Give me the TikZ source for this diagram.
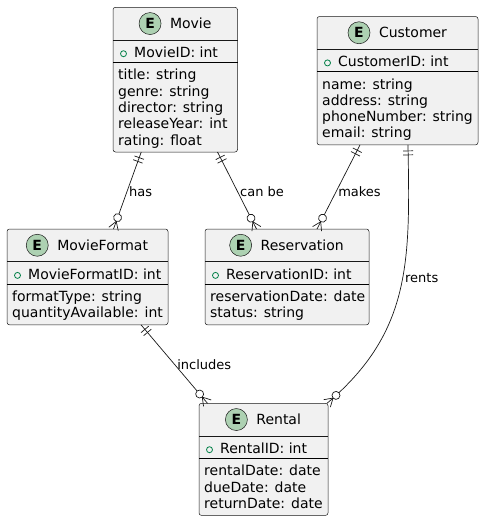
\documentclass[tikz,border=0pt]{standalone}
\usepackage{fontspec}
\setmainfont{DejaVu Sans}
\usetikzlibrary{positioning,decorations.markings}
\definecolor{entityfill}{HTML}{F1F1F1}
\definecolor{entityline}{HTML}{181818}
\definecolor{badgefill}{HTML}{ADD1B2}
\definecolor{keygreen}{HTML}{038048}

\begin{document}
\begin{tikzpicture}[x=1pt, y=1pt,
  entity/.style={rectangle, draw=entityline, fill=entityfill, line width=0.5pt,
    rounded corners=2.5pt, anchor=north west, inner sep=0pt, outer sep=0pt},
  badge/.style={circle, draw=entityline, fill=badgefill, line width=0.5pt, minimum size=22pt,
    inner sep=0pt, outer sep=0pt, font=\fontsize{14}{16}\selectfont\bfseries},
  enttitle/.style={inner sep=0pt, outer sep=0pt, font=\fontsize{14}{16.3}\selectfont},
  keymark/.style={circle, draw=keygreen, line width=0.8pt, minimum size=6pt, inner sep=0pt},
  attr/.style={inner sep=0pt, anchor=north west, align=left, font=\fontsize{14}{16.3}\selectfont,
    execute at begin node=\strut, execute at end node=\strut},
  hdline/.style={draw=entityline, line width=0.5pt},
  sepline/.style={draw=black, line width=0.9pt},
  lbl/.style={font=\fontsize{13}{15}\selectfont, inner sep=2pt},
  rel/.style={draw=entityline, line width=0.7pt, postaction={decorate},
    decoration={markings,
      mark=at position 6pt with {\draw[entityline, line width=0.7pt] (0pt,-5pt) -- (0pt,5pt);},
      mark=at position 10pt with {\draw[entityline, line width=0.7pt] (0pt,-5pt) -- (0pt,5pt);},
      mark=at position -12pt with {\draw[entityline, line width=0.7pt, fill=white] (0pt,0pt) circle (4pt);},
      mark=at position -8pt with {\draw[entityline, line width=0.7pt] (8pt,5pt) -- (0pt,0pt) -- (8pt,-5pt);}}}
]
\useasboundingbox (0,0) rectangle (484,-522);

% Movie
\node[entity, minimum width=124.5, minimum height=144.7] (movie) at (113,-7.3) {};
\node[badge] (movieE) at ([xshift=-25.2,yshift=-16.25]movie.north) {E};
\node[enttitle, right=9pt of movieE] (movieT) {Movie};
\draw[hdline] ([yshift=-32.5]movie.north west) -- ([yshift=-32.5]movie.north east);
\node[keymark] (movieK) at ([xshift=10.5,yshift=-46.4]movie.north west) {};
\node[attr, anchor=base west] (movieID) at ([xshift=21,yshift=-50.3]movie.north west) {MovieID: int};
\draw[sepline] ([yshift=-55.2]movie.north west) -- ([yshift=-55.2]movie.north east);
\node[attr] (movieA) at ([xshift=5,yshift=-61.7]movie.north west)
  {title: string\\genre: string\\director: string\\releaseYear: int\\rating: float};

% Customer
\node[entity, minimum width=161, minimum height=128.4] (customer) at (317,-16.5) {};
\node[badge] (customerE) at ([xshift=-38.5,yshift=-16.25]customer.north) {E};
\node[enttitle, right=9pt of customerE] (customerT) {Customer};
\draw[hdline] ([yshift=-32.5]customer.north west) -- ([yshift=-32.5]customer.north east);
\node[keymark] (customerK) at ([xshift=10.5,yshift=-46.4]customer.north west) {};
\node[attr, anchor=base west] (customerID) at ([xshift=21,yshift=-50.3]customer.north west) {CustomerID: int};
\draw[sepline] ([yshift=-55.2]customer.north west) -- ([yshift=-55.2]customer.north east);
\node[attr] (customerA) at ([xshift=5,yshift=-61.7]customer.north west)
  {name: string\\address: string\\phoneNumber: string\\email: string};

% MovieFormat
\node[entity, minimum width=161, minimum height=95.8] (format) at (7,-229) {};
\node[badge] (formatE) at ([xshift=-50.25,yshift=-16.25]format.north) {E};
\node[enttitle, right=9pt of formatE] (formatT) {MovieFormat};
\draw[hdline] ([yshift=-32.5]format.north west) -- ([yshift=-32.5]format.north east);
\node[keymark] (formatK) at ([xshift=10.5,yshift=-46.4]format.north west) {};
\node[attr, anchor=base west] (formatID) at ([xshift=21,yshift=-50.3]format.north west) {MovieFormatID: int};
\draw[sepline] ([yshift=-55.2]format.north west) -- ([yshift=-55.2]format.north east);
\node[attr] (formatA) at ([xshift=5,yshift=-61.7]format.north west)
  {formatType: string\\quantityAvailable: int};

% Reservation
\node[entity, minimum width=164, minimum height=95.8] (resv) at (205,-229) {};
\node[badge] (resvE) at ([xshift=-46.35,yshift=-16.25]resv.north) {E};
\node[enttitle, right=9pt of resvE] (resvT) {Reservation};
\draw[hdline] ([yshift=-32.5]resv.north west) -- ([yshift=-32.5]resv.north east);
\node[keymark] (resvK) at ([xshift=10.5,yshift=-46.4]resv.north west) {};
\node[attr, anchor=base west] (resvID) at ([xshift=21,yshift=-50.3]resv.north west) {ReservationID: int};
\draw[sepline] ([yshift=-55.2]resv.north west) -- ([yshift=-55.2]resv.north east);
\node[attr] (resvA) at ([xshift=5,yshift=-61.7]resv.north west)
  {reservationDate: date\\status: string};

% Rental
\node[entity, minimum width=129, minimum height=112.1] (rental) at (199,-403.3) {};
\node[badge] (rentalE) at ([xshift=-27.1,yshift=-16.25]rental.north) {E};
\node[enttitle, right=9pt of rentalE] (rentalT) {Rental};
\draw[hdline] ([yshift=-32.5]rental.north west) -- ([yshift=-32.5]rental.north east);
\node[keymark] (rentalK) at ([xshift=10.5,yshift=-46.4]rental.north west) {};
\node[attr, anchor=base west] (rentalID) at ([xshift=21,yshift=-50.3]rental.north west) {RentalID: int};
\draw[sepline] ([yshift=-55.2]rental.north west) -- ([yshift=-55.2]rental.north east);
\node[attr] (rentalA) at ([xshift=5,yshift=-61.7]rental.north west)
  {rentalDate: date\\dueDate: date\\returnDate: date};

% Relations
\draw[rel] ([xshift=-34]movie.south) -- ([xshift=26]format.north)
  node[lbl, pos=0.52, anchor=west] (hasL) {has};
\draw[rel] ([xshift=42.25]movie.south) -- ([xshift=-30.5]resv.north)
  node[lbl, pos=0.52, anchor=west] (canbeL) {can be};
\draw[rel] ([xshift=-37.5]customer.south) -- ([xshift=30]resv.north)
  node[lbl, pos=0.56, anchor=west] (makesL) {makes};
\draw[rel] ([xshift=53.5]format.south) -- ([xshift=-56]rental.north)
  node[lbl, pos=0.51, anchor=west] (includesL) {includes};
\draw[rel] ([xshift=10.5]customer.south) .. controls +(2,-115) and +(85,72) .. ([xshift=-1]rental.north east)
  node[lbl, pos=0.45, anchor=west] (rentsL) {rents};

\end{tikzpicture}
\end{document}
